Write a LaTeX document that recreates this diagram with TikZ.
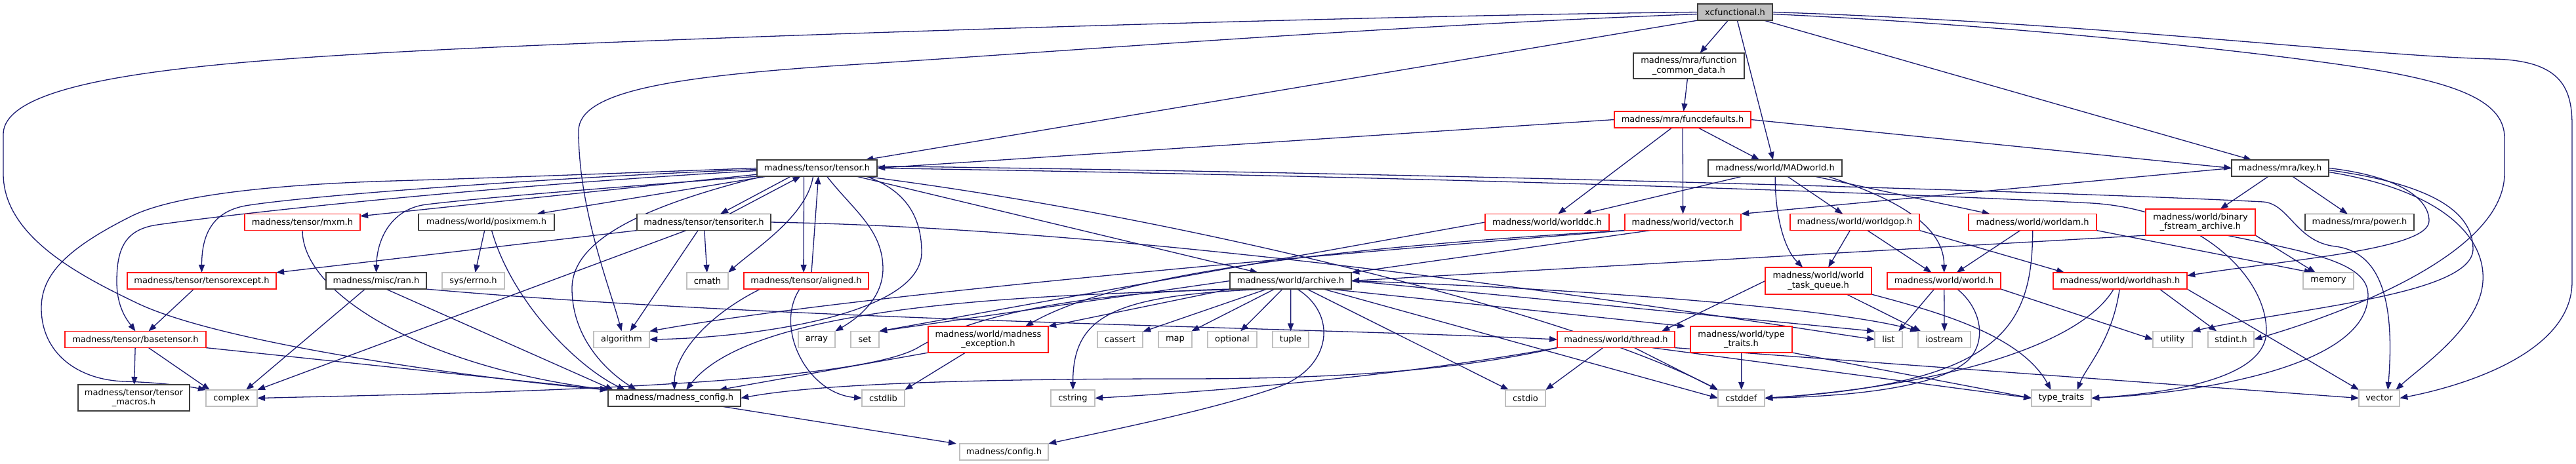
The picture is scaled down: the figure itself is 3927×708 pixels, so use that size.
\documentclass[tikz,border=0pt]{standalone}
\usepackage{fontspec}
\newfontfamily\nfont{DejaVu Sans}
\usetikzlibrary{arrows.meta,calc}
\definecolor{edgec}{RGB}{25,25,112}
\definecolor{nodered}{RGB}{255,20,20}
\definecolor{nodeblk}{RGB}{60,60,60}
\definecolor{nodegray}{RGB}{191,191,191}
\pgfdeclarelayer{bg}
\pgfsetlayers{bg,main}
\tikzset{
  nd/.style={draw, line width=0.16pt, fill=white, inner sep=0pt, minimum height=25pt, transform shape,
    font={\nfont\fontsize{13}{14.5}\selectfont}, text=black},
  blk/.style={nd, draw=nodeblk},
  rd/.style={nd, draw=nodered},
  sy/.style={nd, draw=nodegray},
  rt/.style={nd, draw=nodeblk, fill=nodegray},
  two/.style={align=center, minimum height=40pt},
  e/.style={draw=edgec, line width=0.13pt, -{Triangle[length=1.2pt,width=0.9pt]}},
}
\begin{document}
\begin{tikzpicture}[x=1pt,y=-1pt,scale=0.1]
\useasboundingbox (0,0) rectangle (3927,708);
% nodes
\node[rt, minimum width=114pt] (xc) at (2645,18.5) {xcfunctional.h};
\node[blk, two, minimum width=169pt, minimum height=39pt] (fcd) at (2574.5,100.5) {madness/mra/function\\\_common\_data.h};
\node[rd, minimum width=208pt] (fdef) at (2565,182.5) {madness/mra/funcdefaults.h};
\node[blk, minimum width=183pt] (tensor) at (1245.5,256.5) {madness/tensor/tensor.h};
\node[blk, minimum width=204pt] (madw) at (2706,256.5) {madness/world/MADworld.h};
\node[blk, minimum width=148pt] (key) at (3476,256.5) {madness/mra/key.h};
\node[rd, minimum width=176pt] (mxm) at (461,339) {madness/tensor/mxm.h};
\node[blk, minimum width=207pt] (posix) at (741.5,339) {madness/world/posixmem.h};
\node[blk, minimum width=204pt] (titer) at (1073,339) {madness/tensor/tensoriter.h};
\node[rd, minimum width=189pt] (wdc) at (2358.5,339) {madness/world/worlddc.h};
\node[rd, minimum width=177pt] (vec) at (2565.5,339) {madness/world/vector.h};
\node[rd, minimum width=197pt] (wgop) at (2827.5,339) {madness/world/worldgop.h};
\node[rd, minimum width=195pt] (wam) at (3098.5,339) {madness/world/worldam.h};
\node[rd, two, minimum width=167pt] (bfa) at (3354.5,339) {madness/world/binary\\\_fstream\_archive.h};
\node[blk, minimum width=166pt] (power) at (3597,339) {madness/mra/power.h};
\node[rd, minimum width=227pt] (texc) at (307.5,428.5) {madness/tensor/tensorexcept.h};
\node[blk, minimum width=153pt] (ran) at (573.5,428.5) {madness/misc/ran.h};
\node[sy, minimum width=95pt] (errno) at (721.5,428.5) {sys/errno.h};
\node[sy, minimum width=63pt] (cmath) at (1078.5,428.5) {cmath};
\node[rd, minimum width=190pt] (aligned) at (1229,428.5) {madness/tensor/aligned.h};
\node[blk, minimum width=185pt] (arch) at (1967.5,428.5) {madness/world/archive.h};
\node[rd, two, minimum width=162pt, minimum height=41pt] (wtq) at (2772,428.5) {madness/world/world\\\_task\_queue.h};
\node[rd, minimum width=173pt] (world) at (2963.5,428.5) {madness/world/world.h};
\node[rd, minimum width=204pt] (whash) at (3232,428.5) {madness/world/worldhash.h};
\node[sy, minimum width=77pt] (memory) at (3549.5,428.5) {memory};
\node[rd, minimum width=215pt] (btensor) at (206.5,518) {madness/tensor/basetensor.h};
\node[sy, minimum width=85pt] (algo) at (947.5,518) {algorithm};
\node[sy, minimum width=56pt] (array) at (1245,518) {array};
\node[sy, minimum width=43pt] (set) at (1318.5,518) {set};
\node[rd, two, minimum width=183pt] (mexc) at (1506.5,518) {madness/world/madness\\\_exception.h};
\node[sy, minimum width=69pt] (cassert) at (1707.5,518) {cassert};
\node[sy, minimum width=51pt] (map) at (1791.5,518) {map};
\node[sy, minimum width=75pt] (optional) at (1878.5,518) {optional};
\node[sy, minimum width=55pt] (tuple) at (1967.5,518) {tuple};
\node[rd, minimum width=179pt] (thread) at (2463.5,518) {madness/world/thread.h};
\node[rd, two, minimum width=155pt] (wtt) at (2654.5,518) {madness/world/type\\\_traits.h};
\node[sy, minimum width=42pt] (list) at (2879,518) {list};
\node[sy, minimum width=80pt] (iostream) at (2964,518) {iostream};
\node[sy, minimum width=60pt] (utility) at (3312,518) {utility};
\node[sy, minimum width=70pt] (stdint) at (3401,518) {stdint.h};
\node[blk, two, minimum width=170pt] (tmac) at (204,607) {madness/tensor/tensor\\\_macros.h};
\node[sy, minimum width=78pt] (complex) at (353,607.5) {complex};
\node[blk, minimum width=202pt] (mconf) at (1028,607.5) {madness/madness\_config.h};
\node[sy, minimum width=65pt] (cstdlib) at (1346.5,607.5) {cstdlib};
\node[sy, minimum width=67pt] (cstring) at (1635.5,607.5) {cstring};
\node[sy, minimum width=61pt] (cstdio) at (2325.5,607.5) {cstdio};
\node[sy, minimum width=71pt] (cstddef) at (2654.5,607.5) {cstddef};
\node[sy, minimum width=91pt] (ttraits) at (3142.5,607.5) {type\_traits};
\node[sy, minimum width=62pt] (vector) at (3627,607.5) {vector};
\node[sy, minimum width=135pt] (config) at (1530.5,689.5) {madness/config.h};
\begin{pgfonlayer}{bg}
\fill[white] (0,0) rectangle (3927,708);
% xcfunctional
\draw[e] (xc) -- (fcd);
\draw[e] (xc) -- (madw);
\draw[e] (xc) -- (key);
\draw[e] (xc.south west) -- ($(tensor.north east)+(-18,0)$);
\draw[e] (xc.west) .. controls (2000,25) and (1000,59) .. (650,77) .. controls (300,95) and (5,120) .. (5,205) -- (5,265) .. controls (5,360) and (120,420) .. (210,463) .. controls (345,527) and (750,580) .. (mconf.north west);
\draw[e] ($(xc.west)+(0,3)$) .. controls (2100,40) and (1600,80) .. (1310,98) .. controls (1020,116) and (882,140) .. (882,200) .. controls (882,320) and (930,440) .. (algo.north);
\draw[e] (xc.east) .. controls (3200,35) and (3600,85) .. (3800,90) .. controls (3900,92) and (3921,130) .. (3921,190) -- (3921,430) .. controls (3921,540) and (3750,590) .. (vector.east);
\draw[e] ($(xc.east)+(0,3)$) .. controls (3100,40) and (3500,85) .. (3640,110) .. controls (3760,132) and (3818,160) .. (3818,210) -- (3818,265) .. controls (3818,380) and (3600,470) .. (stdint.east);
% function_common_data / funcdefaults
\draw[e] (fcd) -- (fdef);
\draw[e] (fdef.west) -- (tensor.east);
\draw[e] (fdef) -- (wdc);
\draw[e] (fdef) -- (vec);
\draw[e] (fdef) -- (madw);
\draw[e] (fdef.east) -- (key.west);
% tensor
\draw[e] (tensor) -- (mxm);
\draw[e] (tensor) -- (posix);
\draw[e] ($(tensor.south)+(-40,0)$) -- ($(titer.north)+(25,0)$);
\draw[e] ($(titer.north)+(39,0)$) -- ($(tensor.south)+(-25,0)$);
\draw[e] (tensor.west) .. controls (1000,262) and (800,270) .. (600,276) .. controls (400,282) and (260,300) .. (200,330) .. controls (100,380) and (63,420) .. (63,470) .. controls (63,540) and (120,580) .. (190,582) .. controls (250,584) and (290,590) .. (complex.north west);
\draw[e] ($(tensor.west)+(0,2)$) .. controls (900,268) and (500,295) .. (380,313) .. controls (330,320) and (307.5,350) .. (texc.north);
\draw[e] ($(tensor.west)+(0,4)$) .. controls (800,280) and (400,320) .. (240,343) .. controls (190,350) and (178,380) .. (178,430) .. controls (178,470) and (195,490) .. (btensor.north);
\draw[e] (tensor.south west) .. controls (950,285) and (750,300) .. (650,312) .. controls (600,318) and (575,360) .. (ran.north);
\draw[e] ($(tensor.south)+(-6,0)$) .. controls (1230,330) and (1150,380) .. (cmath.north east);
\draw[e] ($(tensor.south)+(-20,0)$) -- ($(aligned.north)+(-4,0)$);
\draw[e] ($(aligned.north)+(8,0)$) -- ($(tensor.south)+(2,0)$);
\draw[e] ($(tensor.south west)+(8,0)$) .. controls (1000,310) and (872,360) .. (872,440) .. controls (872,520) and (930,570) .. ($(mconf.north)+(-58,0)$);
\draw[e] ($(tensor.south)+(60,0)$) -- ($(arch.north)+(-50,0)$);
\draw[e] ($(tensor.south)+(72,0)$) .. controls (1800,330) and (2400,480) .. (cstddef.north west);
\draw[e] ($(tensor.east)+(0,-3)$) .. controls (2300,266) and (3200,295) .. (3450,308) .. controls (3490,311) and (3500,369) .. (3560,376) .. controls (3625,384) and (3652,450) .. ($(vector.north)+(13,0)$);
\draw[e] (tensor.east) .. controls (2200,270) and (2900,295) .. (3189,310) .. controls (3350,320) and (3455,420) .. (3455,505) .. controls (3455,580) and (3300,600) .. (ttraits.east);
\draw[e] ($(tensor.south)+(15,0)$) .. controls (1300,320) and (1346,350) .. (1346,410) .. controls (1346,460) and (1300,490) .. (array.north east);
\draw[e] ($(tensor.south)+(75,0)$) .. controls (1380,290) and (1405,330) .. (1405,385) .. controls (1405,480) and (1150,515) .. (algo.east);
% MADworld
\draw[e] ($(madw.south)+(-50,0)$) -- ($(wdc.north)+(55,0)$);
\draw[e] (madw) -- (wgop);
\draw[e] ($(madw.south)+(60,0)$) -- ($(wam.north)+(-65,0)$);
\draw[e] (madw.south) .. controls (2706,330) and (2720,380) .. ($(wtq.north)+(-24,0)$);
\draw[e] ($(madw.south)+(80,0)$) .. controls (2880,300) and (2963.5,340) .. (world.north);
% key
\draw[e] (key.west) -- (vec.north east);
\draw[e] ($(key.south)+(-18,0)$) -- ($(bfa.north)+(30,0)$);
\draw[e] (key) -- (power);
\draw[e] (key.east) .. controls (3650,268) and (3703,300) .. (3703,337) .. controls (3703,380) and (3500,395) .. ($(whash.east)+(0,-8)$);
\draw[e] ($(key.east)+(0,3)$) .. controls (3700,280) and (3770,320) .. (3770,380) .. controls (3770,450) and (3500,470) .. (utility.north east);
\draw[e] ($(key.east)+(0,6)$) .. controls (3720,290) and (3790,360) .. (3785,430) .. controls (3780,500) and (3690,560) .. ($(vector.north)+(25,0)$);
% mxm, posixmem
\draw[e] (mxm.south) .. controls (461,450) and (650,560) .. (mconf.north west);
\draw[e] (posix) -- (errno);
\draw[e] ($(posix.south)+(8,0)$) .. controls (780,460) and (880,560) .. ($(mconf.north)+(-75,0)$);
% tensoriter
\draw[e] (titer.south west) -- (texc.north east);
\draw[e] ($(titer.south)+(-27,0)$) -- (complex.north east);
\draw[e] ($(titer.south)+(-9,0)$) -- ($(algo.north)+(13,0)$);
\draw[e] (titer) -- (cmath);
\draw[e] (titer.east) .. controls (1800,350) and (2600,480) .. (list.west);
% worlddc, vector, worldgop, worldam, binary archive
\draw[e] (wdc.west) -- (set.north east);
\draw[e] ($(vec.south)+(-50,0)$) -- (arch.north east);
\draw[e] (vec.south west) .. controls (2000,390) and (1300,450) .. (algo.north east);
\draw[e] (vec.south west) .. controls (2000,380) and (1700,420) .. ($(mexc.north east)+(-35,0)$);
\draw[e] (wgop) -- ($(wtq.north)+(15,0)$);
\draw[e] (wgop) -- (world);
\draw[e] (wgop.south east) -- ($(whash.north)+(-85,0)$);
\draw[e] (wam) -- (world);
\draw[e] (wam.south) .. controls (3098.5,500) and (3050,585) .. (cstddef.east);
\draw[e] (wam.south east) -- ($(memory.north)+(-25,0)$);
\draw[e] (bfa.south west) -- (arch.east);
\draw[e] (bfa.south east) -- ($(memory.north)+(-20,0)$);
\draw[e] ($(bfa.south)+(40,0)$) .. controls (3520,385) and (3610,400) .. (3610,450) .. controls (3610,560) and (3350,600) .. (ttraits.east);
% tensorexcept, ran, aligned
\draw[e] ($(texc.south)+(-12,0)$) -- ($(btensor.north)+(20,0)$);
\draw[e] ($(ran.south)+(-17,0)$) -- ($(complex.north)+(22,0)$);
\draw[e] ($(ran.south)+(15,0)$) -- ($(mconf.north west)+(8,0)$);
\draw[e] (ran.south east) .. controls (1200,490) and (2000,500) .. (thread.west);
\draw[e] ($(aligned.south)+(-70,0)$) .. controls (1080,480) and (1028,540) .. (mconf.north);
\draw[e] ($(aligned.south)+(-10,0)$) .. controls (1180,500) and (1230,600) .. (cstdlib.west);
% archive
\draw[e] (arch.west) -- (set.north east);
\draw[e] (arch.south west) -- (mexc.north east);
\draw[e] (arch) -- (cassert);
\draw[e] (arch) -- (map);
\draw[e] (arch) -- (optional);
\draw[e] (arch) -- (tuple);
\draw[e] ($(arch.south)+(60,0)$) -- ($(wtt.north west)+(-8,0)$);
\draw[e] (arch.east) -- (list.north west);
\draw[e] (arch.east) .. controls (2400,440) and (2800,470) .. (iostream.north west);
\draw[e] (arch.south west) .. controls (1700,445) and (1500,470) .. (1400,530) .. controls (1300,590) and (700,600) .. (complex.east);
\draw[e] ($(arch.south)+(10,0)$) .. controls (2040,480) and (2030,560) .. (1950,590) .. controls (1850,625) and (1700,655) .. (config.north east);
\draw[e] ($(arch.south)+(-35,0)$) .. controls (1700,450) and (1635.5,480) .. (cstring.north);
\draw[e] ($(arch.south)+(25,0)$) -- ($(cstdio.north west)+(5,0)$);
\draw[e] ($(arch.south)+(50,0)$) -- (cstddef.west);
\draw[e] ($(arch.south)+(-70,0)$) .. controls (1600,450) and (1150,460) .. ($(mconf.north)+(18,0)$);
% world_task_queue, world, worldhash
\draw[e] (wtq.west) -- ($(thread.north east)+(-20,0)$);
\draw[e] ($(wtq.south)+(43,0)$) -- ($(iostream.north)+(-36,0)$);
\draw[e] (wtq.south east) .. controls (2950,475) and (3080,510) .. ($(ttraits.north)+(-16,0)$);
\draw[e] ($(world.south)+(-15,0)$) -- ($(list.north)+(15,0)$);
\draw[e] (world) -- (iostream);
\draw[e] ($(world.south)+(20,0)$) .. controls (3020,470) and (3030,520) .. (3000,550) .. controls (2950,595) and (2800,605) .. (cstddef.east);
\draw[e] (world.south east) -- (utility.west);
\draw[e] ($(whash.south)+(60,0)$) -- ($(stdint.north)+(-22,0)$);
\draw[e] ($(whash.south)+(-1,0)$) .. controls (3220,520) and (3180,560) .. ($(ttraits.north)+(24,0)$);
\draw[e] ($(whash.south)+(-10,0)$) .. controls (3170,530) and (2950,590) .. (cstddef.east);
\draw[e] (whash.south east) -- (vector.north west);
% madness_exception, thread, type_traits.h
\draw[e] ($(mexc.south)+(-35,0)$) -- (cstdlib.north east);
\draw[e] (mexc.south west) -- ($(mconf.north)+(68,0)$);
\draw[e] ($(thread.south)+(-20,0)$) -- (cstdio.north east);
\draw[e] ($(thread.south)+(28,0)$) -- (cstddef.north west);
\draw[e] ($(thread.south)+(55,0)$) -- (ttraits.west);
\draw[e] (thread.south west) .. controls (2200,570) and (2000,578) .. (1800,578) .. controls (1500,578) and (1250,585) .. (mconf.east);
\draw[e] (thread.south west) .. controls (2100,580) and (1800,600) .. (cstring.east);
\draw[e] (thread.south east) -- (vector.west);
\draw[e] (wtt) -- (cstddef);
\draw[e] (wtt.south east) -- (ttraits.west);
% basetensor, madness_config
\draw[e] (btensor) -- (tmac);
\draw[e] ($(btensor.south)+(20,0)$) -- ($(complex.north west)+(6,0)$);
\draw[e] (btensor.south east) -- (mconf.north west);
\draw[e] ($(mconf.south)+(72,0)$) -- ($(config.north west)+(-5,0)$);
\end{pgfonlayer}
\end{tikzpicture}
\end{document}
